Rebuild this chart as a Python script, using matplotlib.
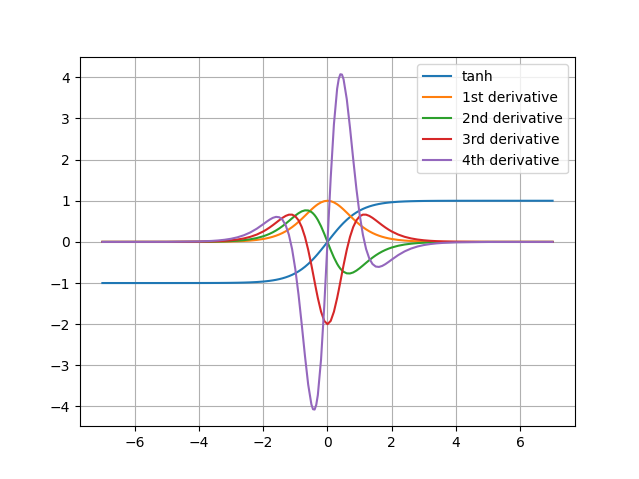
import matplotlib
matplotlib.use("Agg")
import matplotlib.pyplot as plt

x = [-7.0, -5.0, -4.0, -3.6, -3.4, -3.2, -3.0, -2.8, -2.6, -2.4, -2.2, -2.0,
     -1.9, -1.8, -1.7, -1.6, -1.5, -1.4, -1.3, -1.2, -1.1, -1.0, -0.9, -0.8,
     -0.7, -0.6, -0.5, -0.45, -0.4, -0.35, -0.3, -0.2, -0.1, 0.0,
     0.1, 0.2, 0.3, 0.35, 0.4, 0.45, 0.5, 0.6, 0.7, 0.8, 0.9, 1.0, 1.1, 1.2, 1.3, 1.4,
     1.5, 1.6, 1.7, 1.8, 1.9, 2.0, 2.2, 2.4, 2.6, 2.8, 3.0, 3.2, 3.4, 3.6,
     4.0, 5.0, 7.0]

tanh_vals = [-1.0000, -0.9999, -0.9993, -0.9985, -0.9978, -0.9967, -0.9951, -0.9926,
             -0.9890, -0.9837, -0.9757, -0.9640, -0.9562, -0.9468, -0.9354, -0.9217,
             -0.9051, -0.8854, -0.8617, -0.8337, -0.8005, -0.7616, -0.7163, -0.6640,
             -0.6044, -0.5371, -0.4621, -0.4219, -0.3799, -0.3364, -0.2913, -0.1974, -0.0997, 0.0,
             0.0997, 0.1974, 0.2913, 0.3364, 0.3799, 0.4219, 0.4621, 0.5371, 0.6044, 0.6640, 0.7163,
             0.7616, 0.8005, 0.8337, 0.8617, 0.8854, 0.9051, 0.9217, 0.9354, 0.9468,
             0.9562, 0.9640, 0.9757, 0.9837, 0.9890, 0.9926, 0.9951, 0.9967, 0.9978,
             0.9985, 0.9993, 0.9999, 1.0000]

d1_vals = [0.0000, 0.0002, 0.0013, 0.0030, 0.0044, 0.0066, 0.0099, 0.0147, 0.0218,
           0.0324, 0.0479, 0.0707, 0.0856, 0.1036, 0.1250, 0.1505, 0.1807, 0.2162,
           0.2574, 0.3050, 0.3592, 0.4200, 0.4869, 0.5591, 0.6347, 0.7116, 0.7864,
           0.8220, 0.8556, 0.8869, 0.9151, 0.9610, 0.9901, 1.0,
           0.9901, 0.9610, 0.9151, 0.8869, 0.8556, 0.8220, 0.7864, 0.7116, 0.6347, 0.5591, 0.4869,
           0.4200, 0.3592, 0.3050, 0.2574, 0.2162, 0.1807, 0.1505, 0.1250, 0.1036,
           0.0856, 0.0707, 0.0479, 0.0324, 0.0218, 0.0147, 0.0099, 0.0066, 0.0044,
           0.0030, 0.0013, 0.0002, 0.0000]

d2_vals = [0.0000, 0.0004, 0.0027, 0.0060, 0.0089, 0.0132, 0.0196, 0.0291, 0.0432,
           0.0637, 0.0935, 0.1362, 0.1637, 0.1961, 0.2339, 0.2775, 0.3271, 0.3827,
           0.4437, 0.5086, 0.5751, 0.6397, 0.6976, 0.7425, 0.7672, 0.7643, 0.7269,
           0.6936, 0.6502, 0.5966, 0.5332, 0.3794, 0.1974, 0.0,
           -0.1974, -0.3794, -0.5332, -0.5966, -0.6502, -0.6936, -0.7269, -0.7643, -0.7672, -0.7425,
           -0.6976, -0.6397, -0.5751, -0.5086, -0.4437, -0.3827, -0.3271, -0.2775,
           -0.2339, -0.1961, -0.1637, -0.1362, -0.0935, -0.0637, -0.0432, -0.0291,
           -0.0196, -0.0132, -0.0089, -0.0060, -0.0027, -0.0004, 0.0000]

d3_vals = [0.0000, 0.0007, 0.0054, 0.0119, 0.0177, 0.0262, 0.0389, 0.0574, 0.0844,
           0.1232, 0.1779, 0.2527, 0.2985, 0.3499, 0.4063, 0.4662, 0.5269, 0.5843,
           0.6321, 0.6619, 0.6627, 0.6216, 0.5251, 0.3610, 0.1216, -0.1917, -0.5652,
           -0.7661, -0.9702, -1.1716, -1.3643, -1.6975, -1.9211, -2.0,
           -1.9211, -1.6975, -1.3643, -1.1716, -0.9702, -0.7661, -0.5652, -0.1917, 0.1216, 0.3610,
           0.5251, 0.6216, 0.6627, 0.6619, 0.6321, 0.5843, 0.5269, 0.4662, 0.4063,
           0.3499, 0.2985, 0.2527, 0.1779, 0.1232, 0.0844, 0.0574, 0.0389, 0.0262,
           0.0177, 0.0119, 0.0054, 0.0007, 0.0000]

d4_vals = [0.0000, 0.0015, 0.0107, 0.0236, 0.0350, 0.0518, 0.0762, 0.1115, 0.1614,
           0.2301, 0.3203, 0.4294, 0.4867, 0.5407, 0.5846, 0.6087, 0.5992, 0.5382,
           0.4041, 0.1728, -0.1785, -0.6651, -1.2856, -2.0111, -2.7750, -3.4691,
           -3.9522, -4.0673, -4.0753, -3.9629, -3.7225, -2.8576, -1.5553, 0.0,
           1.5553, 2.8576, 3.7225, 3.9629, 4.0753, 4.0673, 3.9522, 3.4691, 2.7750, 2.0111, 1.2856,
           0.6651, 0.1785, -0.1728, -0.4041, -0.5382, -0.5992, -0.6087, -0.5846,
           -0.5407, -0.4867, -0.4294, -0.3203, -0.2301, -0.1614, -0.1115, -0.0762,
           -0.0518, -0.0350, -0.0236, -0.0107, -0.0015, 0.0000]

labels = ["tanh", "1st derivative", "2nd derivative", "3rd derivative", "4th derivative"]
series = [tanh_vals, d1_vals, d2_vals, d3_vals, d4_vals]

fig, ax = plt.subplots(figsize=(6.39, 4.79), dpi=100)
for ys, lab in zip(series, labels):
    ax.plot(x, ys, label=lab)
ax.grid(True)
ax.legend(loc="upper right")
fig.savefig("out.png", dpi=100)
